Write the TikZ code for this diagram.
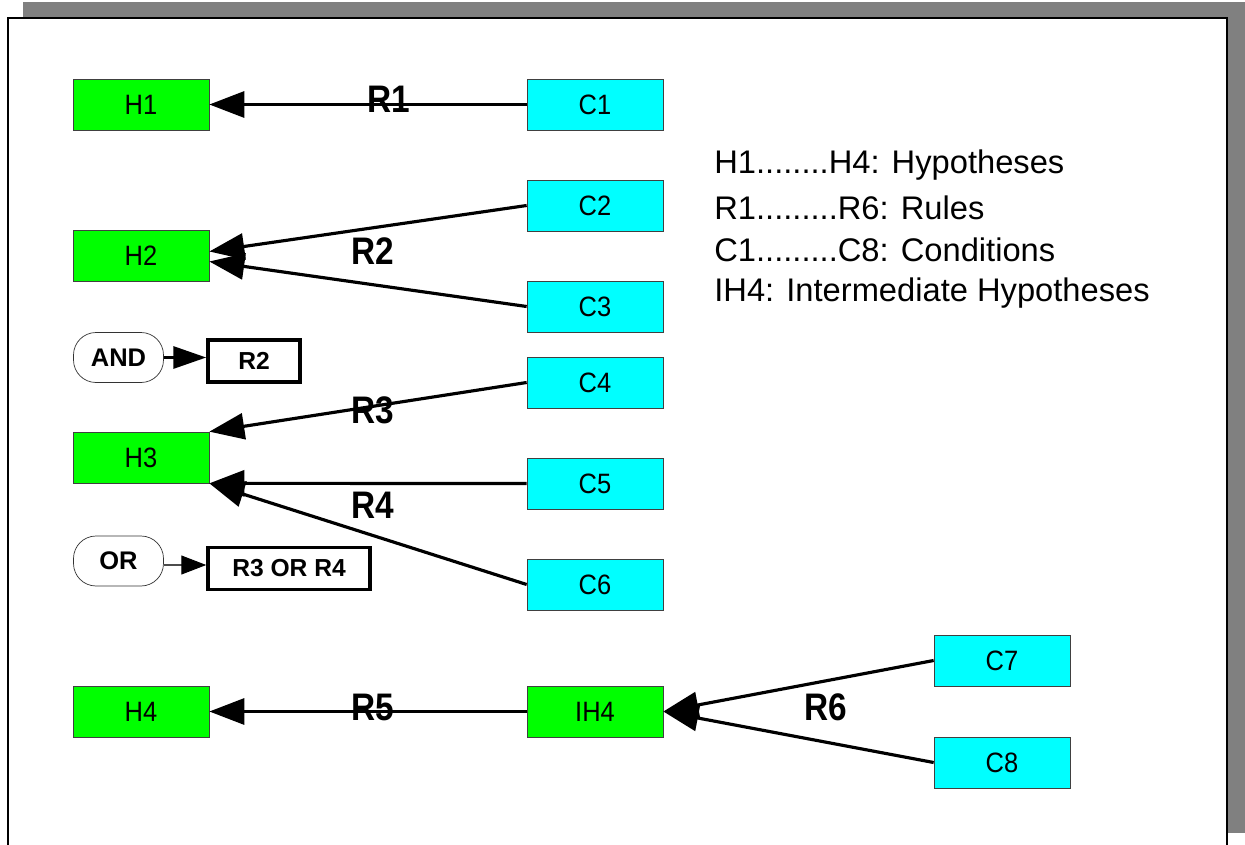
\documentclass[tikz,border=0pt]{standalone}
\usepackage{fontspec}
\setmainfont{Liberation Sans}
\usepackage{graphicx}
\usetikzlibrary{calc}
\usetikzlibrary{arrows.meta}

\definecolor{hypgreen}{RGB}{0,255,0}
\definecolor{condcyan}{RGB}{0,255,255}
\newcommand{\vstr}[2]{\scalebox{1}[#1]{#2}}

\begin{document}
\begin{tikzpicture}[x=0.02cm,y=-0.02cm,
    hypbox/.style={draw=black!75,fill=hypgreen,minimum width=2.72cm,minimum height=1.02cm,inner sep=0pt,font=\fontsize{14.5}{16}\selectfont},
    condbox/.style={hypbox,fill=condcyan},
    opbox/.style={draw=black!80,rounded corners=0.45cm,minimum width=1.8cm,minimum height=1cm,inner sep=0pt,font=\bfseries\fontsize{14.5}{16}\selectfont},
    resbox/.style={draw,line width=2pt,minimum height=0.84cm,inner sep=0pt,font=\bfseries\fontsize{14}{16}\selectfont},
    rulelab/.style={inner sep=0pt,font=\bfseries\fontsize{19}{22}\selectfont},
    legtext/.style={anchor=west,inner sep=0pt,font=\fontsize{18.6}{22}\selectfont},
    rarr/.style={line width=1.8pt,-{Triangle[length=0.7cm,width=0.52cm]}},
    andarr/.style={line width=1.8pt,-{Triangle[length=0.66cm,width=0.44cm]}},
    orarr/.style={line width=0.6pt,draw=black!70,-{Triangle[length=0.5cm,width=0.38cm,black]}}]
                \useasboundingbox (0,0) rectangle (1245,845);
                \fill[gray] (23,2) rectangle (1245,18);
                \fill[gray] (1227,18) rectangle (1245,833);
                \draw[line width=1.2pt] (8,845) -- (8,18) -- (1227,18) -- (1227,845);
                \node[hypbox] (H1) at (141,104.5) {\vstr{1.1}{H1}};
                \node[hypbox] (H2) at (141,255.5) {\vstr{1.1}{H2}};
                \node[hypbox] (H3) at (141,457.5) {\vstr{1.1}{H3}};
                \node[hypbox] (H4) at (141,711.5) {\vstr{1.1}{H4}};
                \node[hypbox] (IH4) at (595,711.5) {\vstr{1.1}{IH4}};
                \node[condbox] (C1) at (595,104.5) {\vstr{1.1}{C1}};
                \node[condbox] (C2) at (595,205.5) {\vstr{1.1}{C2}};
                \node[condbox] (C3) at (595,306.5) {\vstr{1.1}{C3}};
                \node[condbox] (C4) at (595,382.5) {\vstr{1.1}{C4}};
                \node[condbox] (C5) at (595,483.5) {\vstr{1.1}{C5}};
                \node[condbox] (C6) at (595,584.5) {\vstr{1.1}{C6}};
                \node[condbox] (C7) at (1002,660.5) {\vstr{1.1}{C7}};
                \node[condbox] (C8) at (1002,762.5) {\vstr{1.1}{C8}};
                \node[opbox] (AND) at (118.5,357.5) {AND};
                \node[resbox,minimum width=1.84cm] (R2box) at (254,361) {R2};
                \node[opbox] (OR) at (118.5,561) {OR};
                \node[resbox,minimum width=3.24cm] (R34box) at (289,568.5) {R3 OR R4};
                \coordinate (orout) at ($(OR.east)+(0,4)$);
                \draw[rarr] (C1) -- (H1);
                \draw[rarr] (C2.west) -- ($(H2.east)+(0,-4)$);
                \draw[rarr] (C3.west) -- ($(H2.east)+(0,6)$);
                \draw[rarr] (C4.west) -- (H3.north east);
                \draw[rarr] (C5.west) -- (H3.south east);
                \draw[rarr] (C6.west) -- (H3.south east);
                \draw[rarr] (IH4) -- (H4);
                \draw[rarr] (C7.west) -- (IH4.east);
                \draw[rarr] (C8.west) -- (IH4.east);
                \draw[andarr] (AND.east) -- (AND.east -| R2box.west);
                \draw[orarr] (orout) -- (orout -| R34box.west);
                \node[rulelab] (r1) at (389,99) {\vstr{1.15}{R1}};
                \node[rulelab] (r2) at (373,251) {\vstr{1.15}{R2}};
                \node[rulelab] (r3) at (373,410) {\vstr{1.15}{R3}};
                \node[rulelab] (r4) at (373,505) {\vstr{1.15}{R4}};
                \node[rulelab] (r5) at (373,707) {\vstr{1.15}{R5}};
                \node[rulelab] (r6) at (826,707) {\vstr{1.15}{R6}};
                \node[legtext] (leg1) at (714,165) {H1........H4: Hypotheses};
                \node[legtext] (leg2) at (714,208) {R1.........R6: Rules};
                \node[legtext] (leg3) at (714,250) {C1.........C8: Conditions};
                \node[legtext] (leg4) at (714,293) {IH4: Intermediate Hypotheses};
\end{tikzpicture}
\end{document}
